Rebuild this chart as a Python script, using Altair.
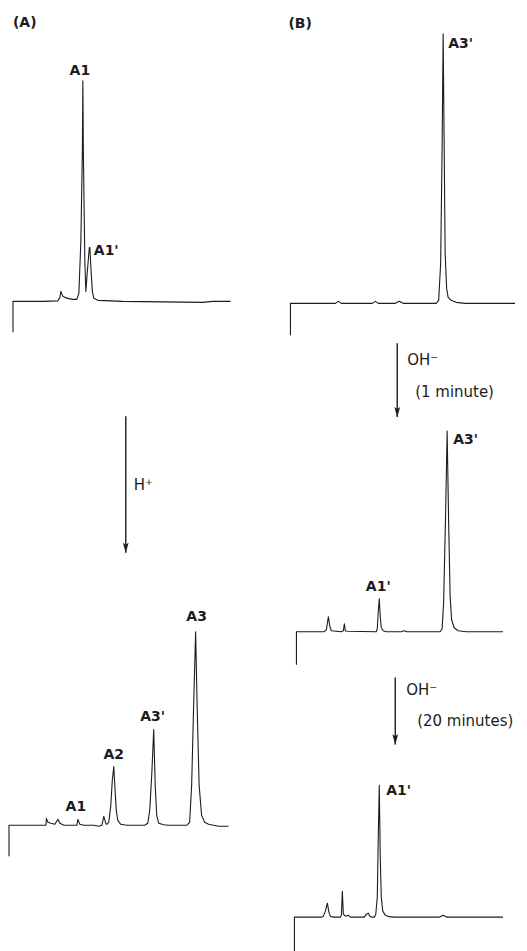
import altair as alt
import pandas as pd

# ---- chromatogram traces: retention (chart-paper units from the injection mark) and signal ----
a_top_t = [0, 0, 30, 45, 47, 48, 50, 52, 55, 60, 64, 66, 68, 69.5, 70, 70.5, 72, 73, 74.5, 76.5, 77, 78, 79.5, 81, 85, 110, 150, 190, 200, 218]
a_top_s = [-31, 0, 0, 0.5, 4, 10, 5, 4, 3, 2, 2, 8, 60, 150, 221, 150, 40, 10, 30, 54, 54, 35, 10, 3, 1, 0, -0.5, -1, 0, 0]

b_top_t = [0, 0, 45, 48, 51, 82, 85, 88, 105, 109, 113, 146, 148.5, 150.5, 152, 153, 154, 155, 156.5, 158, 161, 166, 175, 225]
b_top_s = [-32, 0, 0, 2, 0, 0, 2, 0, 0, 2, 0, 0, 3, 40, 160, 270, 160, 50, 15, 6, 3, 1, 0, 0]

a_bot_t = [0, 0, 37, 37.5, 39, 42, 46, 49, 51, 55, 68, 69, 71, 75, 85, 90, 93, 95, 97, 98,
           100, 102, 103.5, 105, 106, 107.5, 109, 112, 118, 136, 139, 141, 143, 145, 146.5, 148, 150, 155, 160, 178,
           181, 183, 185, 187, 188.5, 190.5, 193, 196, 200, 210, 220]
a_bot_s = [-31, 0, 0, 7, 3, 2, 1, 6, 2, 0, 0, 6, 1, 0, 0, -1, 0, 9, 2, 1,
           3, 20, 45, 59, 40, 15, 5, 1, 0, 0, 2, 15, 50, 96, 40, 10, 2, 0.5, 0, 0,
           3, 40, 120, 194, 120, 40, 10, 3, 1, -1, -1]

b_mid_t = [0, 0, 28, 30, 32, 33.5, 35, 45, 47, 48, 49, 51, 80, 81, 82, 83, 84, 85, 87, 90,
           105, 108, 111, 144, 146, 147.5, 149.5, 151, 152.5, 154, 155.5, 158, 162, 170, 207]
b_mid_s = [-33, 0, 0, 2, 15, 5, 1, 0, 1, 8, 1, 0.5, 0, 3, 20, 33, 15, 4, 1, 0,
           0, 1, 0, 0, 3, 30, 120, 201, 110, 35, 12, 4, 1, 0, 0]

b_bot_t = [0, 0, 27, 29, 31, 33, 34.5, 36, 39, 46, 47, 48, 49, 51, 54, 56, 70, 72, 74, 75.5,
           78, 80, 81.5, 83, 84, 85, 86, 87, 88.5, 91, 95, 100, 145, 149, 153, 209]
b_bot_s = [-34, 0, 0, 1, 6, 14, 5, 1, 0, 0, 2, 26, 3, 1, 2, 0, 0, 3, 4, 1,
           0, 0, 3, 20, 80, 132, 60, 20, 6, 2, 0.5, 0, 0, 2, 0, 0]

# ---- peak labels (in each panel's own units) ----
label_panel = ["A_top", "A_top", "B_top", "A_bot", "A_bot", "A_bot", "A_bot", "B_mid", "B_mid", "B_bot"]
label_text = ["A1", "A1'", "A3'", "A1", "A2", "A3'", "A3", "A1'", "A3'", "A1'"]
label_t = [67, 81, 158, 67, 105, 144, 188, 82, 157, 92]
label_s = [231, 50, 260, 18, 70, 109, 209, 45, 192, 126]
label_align = ["center", "left", "left", "center", "center", "center", "center", "center", "left", "left"]

# ---- layout (page positions of each panel's origin) ----
panels = ["A_top", "B_top", "A_bot", "B_mid", "B_bot"]
panel_x0 = [12, 290, 8, 296, 294]
panel_y0 = [301, 303, 826, 632, 918]

arrow_x = [125, 397, 395]
arrow_y1 = [416, 343, 678]
arrow_y2 = [553, 417, 745]

note_text = ["(A)", "(B)", "H\u207a", "OH\u207b", "(1 minute)", "OH\u207b", "(20 minutes)"]
note_x = [12, 288, 133, 407, 415, 406, 417]
note_y = [22, 23, 485, 360, 392, 690, 721]
note_bold = [True, True, False, False, False, False, False]

INK = "#1c1c1c"
W, H = 511, 928

frames = []
for name, ts, ss in [("A_top", a_top_t, a_top_s), ("B_top", b_top_t, b_top_s), ("A_bot", a_bot_t, a_bot_s),
                     ("B_mid", b_mid_t, b_mid_s), ("B_bot", b_bot_t, b_bot_s)]:
    frames.append(pd.DataFrame({"panel": name, "t": ts, "s": ss, "order": range(len(ts))}))
traces = pd.concat(frames, ignore_index=True)
layout = pd.DataFrame({"panel": panels, "x0": panel_x0, "y0": panel_y0})
labels = pd.DataFrame({"panel": label_panel, "text": label_text, "t": label_t, "s": label_s, "align": label_align})
arrows = pd.DataFrame({"x": arrow_x, "y1": arrow_y1, "y2": arrow_y2})
notes = pd.DataFrame({"text": note_text, "x": note_x, "y": note_y, "bold": note_bold})

xs = alt.Scale(domain=[8, 8 + W], nice=False, zero=False)
ys = alt.Scale(domain=[8, 8 + H], nice=False, zero=False, reverse=True)

lookup = alt.LookupData(data=layout, key="panel", fields=["x0", "y0"])

lines = alt.Chart(traces).transform_lookup(lookup="panel", from_=lookup).transform_calculate(
    X="datum.x0 + datum.t", Y="datum.y0 - datum.s"
).mark_line(color=INK, strokeWidth=1.1, strokeJoin="round").encode(
    x=alt.X("X:Q", scale=xs, axis=None),
    y=alt.Y("Y:Q", scale=ys, axis=None),
    detail="panel:N",
    order="order:Q",
)

lab_base = alt.Chart(labels).transform_lookup(lookup="panel", from_=lookup).transform_calculate(
    X="datum.x0 + datum.t", Y="datum.y0 - datum.s"
)
lab_layers = []
for al in ["left", "center"]:
    lab_layers.append(
        lab_base.transform_filter(alt.datum.align == al).mark_text(
            align=al, baseline="middle", font="DejaVu Sans", fontWeight="bold", fontSize=14, color=INK
        ).encode(x=alt.X("X:Q", scale=xs, axis=None), y=alt.Y("Y:Q", scale=ys, axis=None), text="text:N")
    )

rules = alt.Chart(arrows).mark_rule(color=INK, strokeWidth=1.4).encode(
    x=alt.X("x:Q", scale=xs, axis=None),
    y=alt.Y("y1:Q", scale=ys, axis=None),
    y2="y2:Q",
)
heads = alt.Chart(arrows).mark_point(
    shape="M0,1 L-0.55,-1 L0,-0.6 L0.55,-1 Z", filled=True, size=110, color=INK, opacity=1, yOffset=-5
).encode(x=alt.X("x:Q", scale=xs, axis=None), y=alt.Y("y2:Q", scale=ys, axis=None))

note_layers = []
for b in [True, False]:
    note_layers.append(
        alt.Chart(notes).transform_filter(alt.datum.bold == b).mark_text(
            align="left", baseline="middle", font="DejaVu Sans",
            fontWeight="bold" if b else "normal", fontSize=14 if b else 15, color=INK
        ).encode(x=alt.X("x:Q", scale=xs, axis=None), y=alt.Y("y:Q", scale=ys, axis=None), text="text:N")
    )

chart = alt.layer(lines, *lab_layers, rules, heads, *note_layers).properties(
    width=W, height=H, padding=0, background="white"
).configure_view(stroke=None)

chart.save("out.html", embed_options={"renderer": "svg", "actions": False})
